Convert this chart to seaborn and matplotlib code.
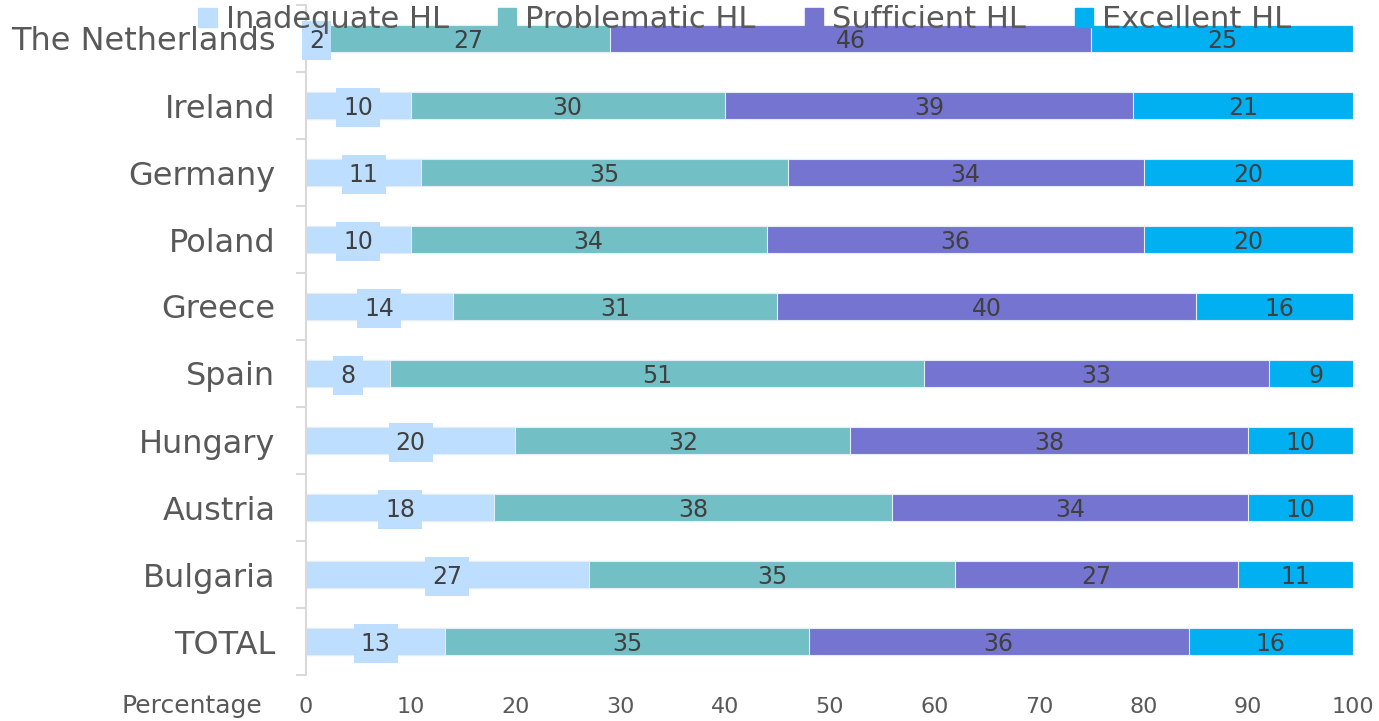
import numpy as np
import pandas as pd
import matplotlib
matplotlib.use("Agg")
import matplotlib.pyplot as plt
import seaborn as sns

# datos del grafico (porcentajes por nivel de HL)
paises = ['The Netherlands', 'Ireland', 'Germany', 'Poland', 'Greece',
          'Spain', 'Hungary', 'Austria', 'Bulgaria', 'TOTAL']
inadecuado = [2, 10, 11, 10, 14, 8, 20, 18, 27, 13.3]
problematico = [27, 30, 35, 34, 31, 51, 32, 38, 35, 34.7]
suficiente = [46, 39, 34, 36, 40, 33, 38, 34, 27, 36.3]
excelente = [25, 21, 20, 20, 16, 9, 10, 10, 11, 15.7]
series = ['Inadequate HL', 'Problematic HL', 'Sufficient HL', 'Excellent HL']
colores = ['#BDDEFE', '#72BFC5', '#7574D0', '#00B0F0']
ticks_x = [0, 10, 20, 30, 40, 50, 60, 70, 80, 90, 100]

sns.set_style("white")
plt.rcParams['font.family'] = ['DejaVu Sans']

df = pd.DataFrame({'pais': paises, series[0]: inadecuado, series[1]: problematico,
                   series[2]: suficiente, series[3]: excelente})
acumulado = df[series].cumsum(axis=1)

fig = plt.figure(figsize=(13.79, 7.21), dpi=100)
ax = fig.add_axes([306 / 1379, 1 - 675 / 721, (1353 - 306) / 1379, 670 / 721])

# barras apiladas: se dibuja el acumulado de mayor a menor
for i in range(3, -1, -1):
    sns.barplot(x=acumulado[series[i]], y=df['pais'], orient='h', color=colores[i],
                width=0.4, edgecolor='#e6eef5', linewidth=0.8, saturation=1, ax=ax)

# etiquetas de datos
izq = acumulado[series].shift(1, axis=1).fillna(0)
for i, s in enumerate(series):
    for j in range(len(paises)):
        v = df[s][j]
        centro = izq[s][j] + v / 2
        caja = None
        if i == 0:
            caja = dict(boxstyle='square,pad=0.3', facecolor=colores[0], edgecolor='none')
        ax.text(centro, j + 0.03, f"{v:.0f}", ha='center', va='center', fontsize=17,
                color='#404040', bbox=caja, clip_on=False, zorder=5)

ax.set_xlim(0, 100)
ax.set_ylim(9.5, -0.5)
ax.set_xticks(ticks_x)
ax.set_yticks(np.arange(-0.5, 10, 1), minor=True)
ax.set_xlabel('')
ax.set_ylabel('')
ax.tick_params(axis='x', length=0, pad=16, labelsize=16, labelcolor='#595959')
ax.tick_params(axis='y', which='major', length=0, pad=22, labelsize=23, labelcolor='#595959')
ax.tick_params(axis='y', which='minor', length=7, width=1.5, color='#d9d9d9', left=True)
for lado in ['top', 'right', 'bottom']:
    ax.spines[lado].set_visible(False)
ax.spines['left'].set_color('#d9d9d9')
ax.spines['left'].set_linewidth(1.5)

fig.text(262 / 1379, 1 - 706 / 721, 'Percentage', ha='right', va='center',
         fontsize=18, color='#595959')

handles = [plt.Rectangle((0, 0), 1, 1, color=c) for c in colores]
fig.legend(handles, series, loc='center', bbox_to_anchor=(745 / 1379, 1 - 20 / 721),
           ncol=4, frameon=False, fontsize=22, labelcolor='#595959',
           handlelength=0.6, handleheight=0.6, handletextpad=0.3, columnspacing=1.6)

plt.savefig('out.png', dpi=100)
